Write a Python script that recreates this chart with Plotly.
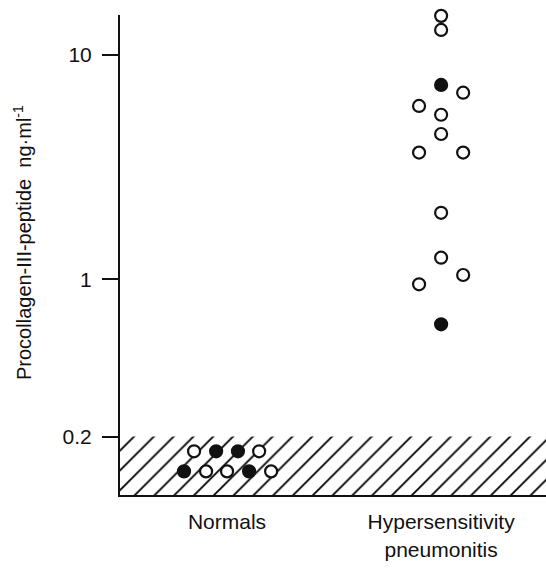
import plotly.graph_objects as go

# ---------------- data ----------------
categories = ["Normals", "Hypersensitivity<br>pneumonitis"]
category_pos = [0, 1]

# Normals (all below detection limit)
normals_offset = [-0.201, -0.098, 0.0, 0.103, 0.206, -0.154, -0.051, 0.051, 0.150]
normals_values = [0.140, 0.140, 0.140, 0.140, 0.140, 0.172, 0.172, 0.172, 0.172]
normals_filled = [1, 0, 0, 1, 0, 0, 1, 1, 0]

# Hypersensitivity pneumonitis
hp_offset = [0.0, 0.0, 0.0, 0.103, -0.103, 0.0, 0.0, -0.103, 0.103, 0.0, 0.0, 0.103, -0.103, 0.0]
hp_values = [14.9, 12.9, 7.34, 6.78, 5.92, 5.41, 4.44, 3.67, 3.67, 1.98, 1.25, 1.047, 0.952, 0.632]
hp_filled = [0, 0, 1, 0, 0, 0, 0, 0, 0, 0, 0, 0, 0, 1]

detection_limit = 0.2
y_tick_vals = [0.2, 1, 10]
y_tick_text = ["0.2", "1", "10"]
y_log_range = [-0.959, 1.177]
x_range = [-0.5, 1.49]

FONT = "Liberation Sans, Arial, sans-serif"
INK = "#111111"

# ---------------- figure ----------------
fig = go.Figure()

# hatched region below detection limit
fig.add_trace(go.Scatter(
    x=[x_range[0], x_range[1], x_range[1], x_range[0], x_range[0]],
    y=[0.05, 0.05, detection_limit, detection_limit, 0.05],
    mode="lines", line=dict(width=0), fill="toself",
    fillcolor="white",
    fillpattern=dict(shape="/", size=14, solidity=0.13, fgcolor="#000000",
                     fgopacity=1, bgcolor="white"),
    hoverinfo="skip", showlegend=False,
))

def add_group(cat_index, offsets, values, filled):
    xs = [category_pos[cat_index] + o for o in offsets]
    colors = [INK if f else "white" for f in filled]
    fig.add_trace(go.Scatter(
        x=xs, y=values, mode="markers",
        marker=dict(symbol="circle", size=12, color=colors,
                    line=dict(color=INK, width=2.2)),
        cliponaxis=False, showlegend=False,
    ))

add_group(0, normals_offset, normals_values, normals_filled)
add_group(1, hp_offset, hp_values, hp_filled)

fig.update_layout(
    width=546, height=568,
    margin=dict(l=120, r=0, t=15, b=73),
    paper_bgcolor="white", plot_bgcolor="white",
    font=dict(family=FONT, size=21, color=INK),
    showlegend=False,
    xaxis=dict(
        range=x_range, showgrid=False, zeroline=False,
        showline=True, linecolor=INK, linewidth=2,
        tickvals=category_pos, ticktext=categories, ticks="",
        tickfont=dict(size=21), ticklabelstandoff=7,
    ),
    yaxis=dict(
        type="log", range=y_log_range, showgrid=False, zeroline=False,
        showline=True, linecolor=INK, linewidth=2,
        tickvals=y_tick_vals, ticktext=y_tick_text,
        ticks="outside", ticklen=16, tickwidth=1.5, tickcolor=INK,
        tickfont=dict(size=21), ticklabelstandoff=6,
    ),
    annotations=[dict(
        text="Procollagen-III-peptide  ng·ml<sup>-1</sup>",
        xref="paper", yref="paper", x=0, y=0.525,
        xanchor="center", yanchor="middle", xshift=-98,
        textangle=-90, showarrow=False, font=dict(size=20),
    )],
)

fig.write_html("out.html", post_script="document.body.style.margin='0';",
               config={"displayModeBar": False})
